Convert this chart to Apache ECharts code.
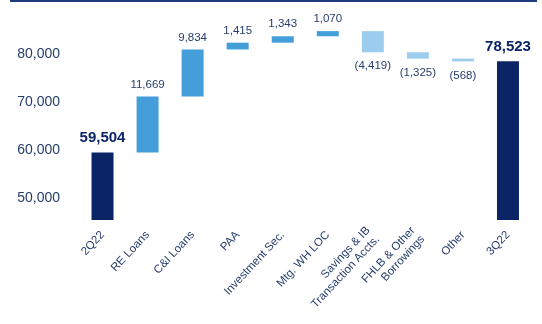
<!DOCTYPE html>
<html>
<head>
<meta charset="utf-8">
<script src="https://cdn.jsdelivr.net/npm/echarts@6/dist/echarts.min.js"></script>
<style>
  html, body { margin: 0; padding: 0; background: #ffffff; }
  #chart { width: 542px; height: 324px; }
</style>
</head>
<body>
<div id="chart"></div>
<script>
// Deposit bridge, 2Q22 -> 3Q22
const categories = ['2Q22', 'RE Loans', 'C&I Loans', 'PAA', 'Investment Sec.', 'Mtg. WH LOC',
  'Savings & IB\nTransaction Accts.', 'FHLB & Other\nBorrowings', 'Other', '3Q22'];
const startTotal = 59504;
const endTotal = 78523;
// changes between the two totals (index 1..8)
const changes = [11669, 9834, 1415, 1343, 1070, -4419, -1325, -568];
const yTickValues = [50000, 60000, 70000, 80000];

const NAVY = '#0b2466';
const UP = '#449ed9';
const DOWN = '#9ccdee';
const TEXT = '#263d6c';

// build invisible base + visible segment for each step
const base = [];
const seg = [];
const kinds = [];
base.push('-'); seg.push(startTotal); kinds.push('total');
let running = startTotal;
changes.forEach(c => {
  if (c >= 0) {
    base.push(running); seg.push(c); kinds.push('up');
  } else {
    base.push(running + c); seg.push(-c); kinds.push('down');
  }
  running += c;
});
base.push('-'); seg.push(endTotal); kinds.push('total');

const fmt = v => v.toLocaleString('en-US');

const segData = seg.map((v, i) => {
  const k = kinds[i];
  const item = { value: v, itemStyle: { color: k === 'total' ? NAVY : (k === 'up' ? UP : DOWN) } };
  if (k === 'total') {
    item.label = { show: true, position: 'top', distance: 7, formatter: fmt(v),
      fontSize: 15, fontWeight: 'bold', color: NAVY };
  } else if (k === 'up') {
    item.label = { show: true, position: 'top', distance: 6, formatter: fmt(v),
      fontSize: 11.5, color: TEXT };
  } else {
    item.label = { show: true, position: 'bottom', distance: 8, formatter: '(' + fmt(v) + ')',
      fontSize: 11.5, color: TEXT };
  }
  return item;
});

const chart = echarts.init(document.getElementById('chart'), null, { renderer: 'canvas' });
chart.setOption({
  animation: false,
  backgroundColor: '#ffffff',
  textStyle: { fontFamily: 'Liberation Sans, Arial, sans-serif' },
  grid: { left: 80, right: 11.5, top: 6.4, bottom: 104, containLabel: false },
  graphic: [{
    type: 'rect', left: 10, top: 0,
    shape: { width: 527, height: 2 },
    style: { fill: '#1d3b7c' }
  }],
  xAxis: {
    type: 'category',
    data: categories,
    axisLine: { show: false },
    axisTick: { show: false },
    axisLabel: {
      interval: 0, rotate: 47, margin: 13,
      fontSize: 11.5, color: TEXT, lineHeight: 13
    }
  },
  yAxis: {
    type: 'value',
    min: 45400,
    max: 90000,
    splitLine: { show: false },
    axisLine: { show: false },
    axisTick: { show: false },
    axisLabel: {
      customValues: yTickValues,
      margin: 20, fontSize: 14, color: TEXT,
      formatter: v => fmt(v)
    }
  },
  series: [
    {
      type: 'bar', stack: 'w', data: base, barWidth: 22,
      itemStyle: { color: 'rgba(0,0,0,0)' }, emphasis: { disabled: true }, silent: true
    },
    {
      type: 'bar', stack: 'w', data: segData, barWidth: 22
    }
  ]
});
</script>
</body>
</html>
